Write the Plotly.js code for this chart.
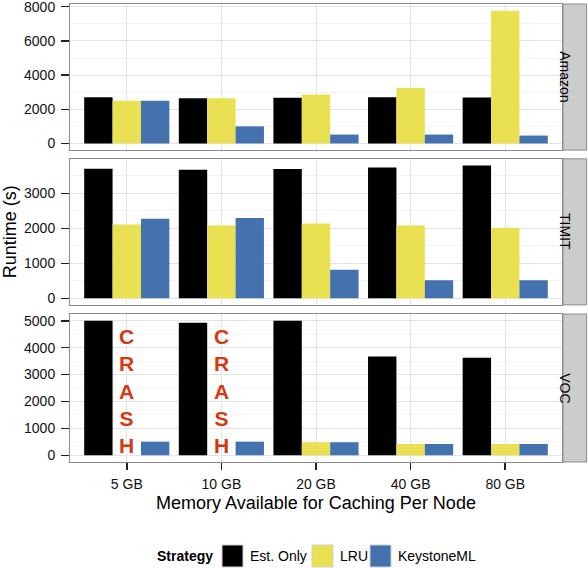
<!DOCTYPE html>
<html>
<head>
<meta charset="utf-8">
<script src="https://cdn.plot.ly/plotly-3.0.1.min.js"></script>
<style>
	html, body { margin: 0; padding: 0; background: #fff; }
	#chart { width: 588px; height: 568px; }
</style>
</head>
<body>
<div id="chart"></div>
<script>
const sizes = ['5 GB', '10 GB', '20 GB', '40 GB', '80 GB'];
const strategies = ['Est. Only', 'LRU', 'KeystoneML'];

// runtime in seconds
const amazonEst = [2710, 2650, 2670, 2710, 2690];
const amazonLru = [2500, 2650, 2860, 3250, 7770];
const amazonKey = [2500, 1000, 520, 520, 460];
const timitEst = [3700, 3675, 3695, 3740, 3795];
const timitLru = [2110, 2080, 2135, 2080, 2015];
const timitKey = [2270, 2295, 815, 515, 515];
const vocEst = [5000, 4925, 5000, 3675, 3625];
const vocLru = [null, null, 485, 420, 420]; // crashed at 5 and 10 GB
const vocKey = [505, 505, 485, 420, 420];
const crashAt = ['5 GB', '10 GB'];

const colors = ['#000000', '#EAE152', '#4372AF'];
const font = 'Liberation Sans, Arial, sans-serif';

// plot area in pixels, used to place the hand-made legend
const plotLeft = 70, plotWidth = 492, plotBottom = 462, plotHeight = 458;
const px = v => (v - plotLeft) / plotWidth;
const py = v => (plotBottom - v) / plotHeight;

const panels = [
	{ name: 'VOC', x: 'x', y: 'y', series: [vocEst, vocLru, vocKey] },
	{ name: 'TIMIT', x: 'x2', y: 'y2', series: [timitEst, timitLru, timitKey] },
	{ name: 'Amazon', x: 'x3', y: 'y3', series: [amazonEst, amazonLru, amazonKey] },
];

const data = [];
panels.forEach(p => {
	p.series.forEach((vals, i) => {
		data.push({
			type: 'bar',
			x: sizes,
			y: vals,
			name: strategies[i],
			xaxis: p.x,
			yaxis: p.y,
			showlegend: false,
			marker: { color: colors[i], line: { width: 0 } },
		});
	});
});

const yBase = {
	showline: true, mirror: true, linecolor: '#8a8a8a', linewidth: 1,
	ticks: 'outside', ticklen: 8, tickwidth: 1.5, tickcolor: '#222',
	ticklabelstandoff: 3, ticklabeloverflow: 'allow',
	gridcolor: '#e3e3e3', zeroline: false,
	tickfont: { family: font, size: 14, color: '#111' },
};
const xBase = {
	type: 'category', range: [-0.6, 4.6],
	showline: true, mirror: true, linecolor: '#8a8a8a', linewidth: 1,
	gridcolor: '#e3e3e3', zeroline: false,
	tickfont: { family: font, size: 14, color: '#111' },
};

const layout = {
	width: 588,
	height: 568,
	margin: { t: 4, l: 70, r: 26, b: 106 },
	paper_bgcolor: '#fff',
	plot_bgcolor: '#fff',
	barmode: 'group',
	bargap: 0.1,
	bargroupgap: 0,
	showlegend: false,
	font: { family: font, color: '#000' },
	xaxis: Object.assign({}, xBase, {
		anchor: 'y', ticks: 'outside', ticklen: 7, tickwidth: 1.5, tickcolor: '#222',
		ticklabelstandoff: 2,
		title: { text: 'Memory Available for Caching Per Node', font: { family: font, size: 18 }, standoff: 5 },
	}),
	xaxis2: Object.assign({}, xBase, { anchor: 'y2', matches: 'x', showticklabels: false }),
	xaxis3: Object.assign({}, xBase, { anchor: 'y3', matches: 'x', showticklabels: false }),
	yaxis: Object.assign({}, yBase, {
		domain: [0, 0.323], range: [-250, 5250], dtick: 1000,
		minor: { dtick: 500, showgrid: true, gridcolor: '#f3f3f3' },
	}),
	yaxis2: Object.assign({}, yBase, {
		domain: [0.343, 0.662], range: [-190, 3986], dtick: 1000,
		minor: { dtick: 500, showgrid: true, gridcolor: '#f3f3f3' },
		title: { text: 'Runtime (s)', font: { family: font, size: 18 }, standoff: 6 },
	}),
	yaxis3: Object.assign({}, yBase, {
		domain: [0.681, 1], range: [-390, 8160], dtick: 2000,
		minor: { dtick: 1000, showgrid: true, gridcolor: '#f3f3f3' },
	}),
	shapes: [],
	annotations: [],
};

// facet strips on the right
panels.forEach(p => {
	const yref = p.y + ' domain';
	layout.shapes.push({
		type: 'rect', xref: 'paper', yref: yref,
		x0: 1.002, x1: 1.05, y0: 0, y1: 1,
		fillcolor: '#cccccc', line: { color: '#8a8a8a', width: 1 },
	});
	layout.annotations.push({
		text: p.name, xref: 'paper', yref: yref,
		x: 1.026, y: 0.5, showarrow: false, textangle: 90,
		font: { family: font, size: 14, color: '#000' },
	});
});

// crash markers where the LRU bar is missing
crashAt.forEach(c => {
	layout.annotations.push({
		text: '<b>C<br>R<br>A<br>S<br>H</b>',
		xref: 'x', yref: 'y', x: c, y: 0, yanchor: 'bottom', yshift: -4,
		showarrow: false,
		font: { family: font, size: 21, color: '#D43A12' },
	});
});

// legend drawn by hand, ggplot style: big keys, title on the left
const legendY = 556;
const keyLeft = [222, 312, 370];
const labelLeft = [248, 338, 396];
layout.annotations.push({
	text: '<b>Strategy</b>', xref: 'paper', yref: 'paper',
	x: px(155), y: py(legendY), xanchor: 'left', yanchor: 'middle', showarrow: false,
	font: { family: font, size: 14, color: '#000' },
});
strategies.forEach((s, i) => {
	layout.shapes.push({
		type: 'rect', xref: 'paper', yref: 'paper',
		x0: px(keyLeft[i]), x1: px(keyLeft[i] + 21),
		y0: py(legendY - 11), y1: py(legendY + 11),
		fillcolor: colors[i], line: { color: '#cfcfcf', width: 1 },
	});
	layout.annotations.push({
		text: s, xref: 'paper', yref: 'paper',
		x: px(labelLeft[i]), y: py(legendY), xanchor: 'left', yanchor: 'middle', showarrow: false,
		font: { family: font, size: 14, color: '#000' },
	});
});

Plotly.newPlot('chart', data, layout, { displayModeBar: false, staticPlot: true });
</script>
</body>
</html>
